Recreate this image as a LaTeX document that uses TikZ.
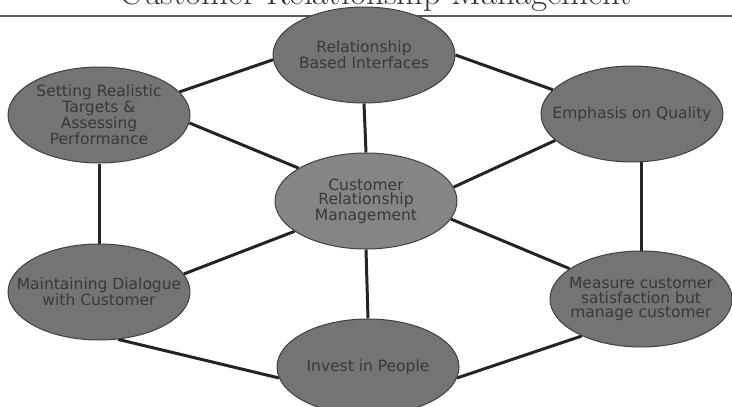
\documentclass[tikz,border=0pt]{standalone}
\usepackage{fontspec}
\newfontfamily\bubblefont{DejaVu Sans}
\usetikzlibrary{shapes.geometric,backgrounds}
\definecolor{bubblefill}{HTML}{747474}
\definecolor{bubblemid}{HTML}{858585}
\definecolor{bubbletext}{HTML}{383838}
\definecolor{linkgray}{HTML}{242424}
\tikzset{
	bubble/.style={ellipse, draw=black!75, line width=1pt, fill=bubblefill,
		text=bubbletext, font=\bubblefont\fontsize{15.5}{14.5}\selectfont,
		align=center, inner xsep=-30pt, inner ysep=-20pt,
		minimum width=182pt, minimum height=96pt},
	link/.style={line width=3pt, draw=linkgray},
}
\begin{document}
\begin{tikzpicture}[x=1pt, y=-1pt, line join=round]
	\useasboundingbox (0,0) rectangle (732,407);
	\clip (0,0) rectangle (732,407);
	% title, cut off by the top edge
	\node[anchor=base, text=black!80, font=\fontsize{35}{40}\selectfont] (title) at (376,4) {Customer Relationship Management};
	\draw[line width=2pt, black!65] (0,16) -- (732,16);
	% bubbles
	\foreach \name/\x/\y/\txt in {top/364/55/{Relationship\\Based Interfaces},
		lt/99/115/{Setting Realistic\\Targets \&\\Assessing\\Performance},
		rt/632/114/{Emphasis on Quality},
		lb/99/292/{Maintaining Dialogue\\with Customer},
		rb/641/299/{Measure customer\\satisfaction but\\manage customer},
		bot/368/367/{Invest in People}}
		\node[bubble] (\name) at (\x,\y) {\txt};
	\node[bubble, fill=bubblemid] (ctr) at (366,201) {Customer\\Relationship\\Management};
	% links
	\begin{scope}[on background layer]
		\foreach \a/\b in {lt.16/top.183, top.0/rt.163, lt.-5/ctr.154, ctr.9/rt.199,
			ctr.203/lb.12, ctr.-12/rb.157, lb.-68/bot.187, bot.-7/rb.212,
			top.south/ctr.north, ctr.south/bot.north, lt.south/lb.north}
			\draw[link] (\a) -- (\b);
		\draw[link] (rb.north) -- (rb.north |- rt.center);
	\end{scope}
\end{tikzpicture}
\end{document}
